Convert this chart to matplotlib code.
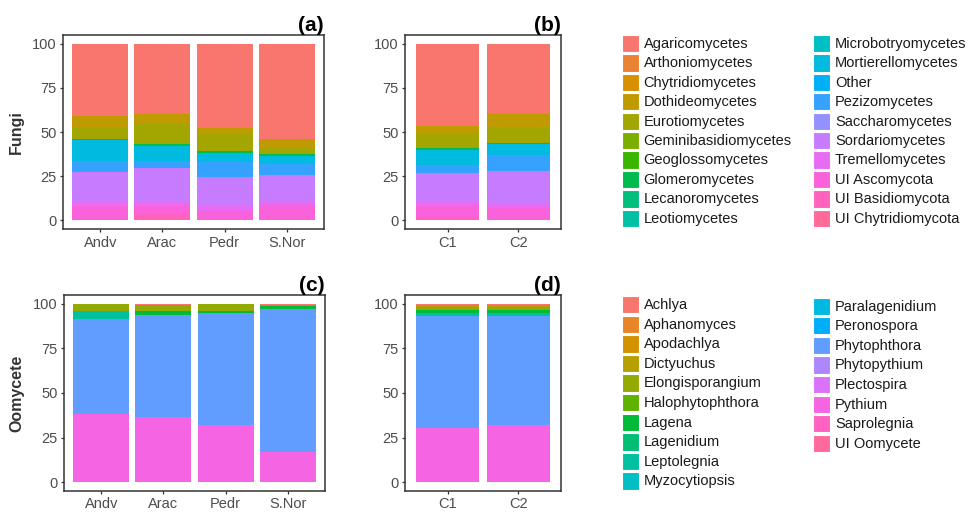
import numpy as np
import matplotlib
matplotlib.use('Agg')
import matplotlib.pyplot as plt
from matplotlib.patches import Rectangle

plt.rcParams['font.family'] = ['Liberation Sans', 'DejaVu Sans']

# --- data (relative abundance, %) ---
fungi_classes = ['Agaricomycetes', 'Arthoniomycetes', 'Chytridiomycetes', 'Dothideomycetes',
                 'Eurotiomycetes', 'Geminibasidiomycetes', 'Geoglossomycetes', 'Glomeromycetes',
                 'Lecanoromycetes', 'Leotiomycetes', 'Microbotryomycetes', 'Mortierellomycetes',
                 'Other', 'Pezizomycetes', 'Saccharomycetes', 'Sordariomycetes',
                 'Tremellomycetes', 'UI Ascomycota', 'UI Basidiomycota', 'UI Chytridiomycota']
sites = ['Andv', 'Arac', 'Pedr', 'S.Nor']
crops = ['C1', 'C2']

#                Agar Arth Chyt Doth Euro Gemi Geog Glom Leca Leot Micr Mort Oth Pezi Sacc Sord Trem UIA  UIB UIC
fungi_sites = [[41.0, 0, 0, 6.6, 6.2, 0, 0, 0.7, 0, 0, 0, 12.0, 0, 5.9, 0, 17.3, 2.0, 8.3, 0, 0],
               [39.8, 0, 0, 5.3, 11.7, 0, 0, 1.1, 0, 0, 0, 8.3, 0, 3.9, 0, 19.6, 2.2, 4.7, 3.4, 0],
               [47.6, 0, 0, 3.5, 9.4, 0, 0, 1.5, 0, 0, 0, 5.1, 0, 8.3, 0, 16.1, 3.2, 5.3, 0, 0],
               [53.8, 0, 0, 5.2, 3.4, 0, 0, 0.9, 0, 0, 0, 4.7, 0, 6.4, 0, 15.4, 1.2, 9.0, 0, 0]]
fungi_crops = [[46.8, 0, 0, 4.3, 8.1, 0, 0, 1.0, 0, 0, 0, 8.4, 0, 4.3, 0, 16.9, 2.3, 6.0, 1.9, 0],
               [39.8, 0, 0, 7.9, 8.3, 0, 0, 0.6, 0, 0, 0, 6.4, 0, 8.8, 0, 18.4, 2.3, 7.5, 0, 0]]

oomy_genera = ['Achlya', 'Aphanomyces', 'Apodachlya', 'Dictyuchus', 'Elongisporangium',
               'Halophytophthora', 'Lagena', 'Lagenidium', 'Leptolegnia', 'Myzocytiopsis',
               'Paralagenidium', 'Peronospora', 'Phytophthora', 'Phytopythium', 'Plectospira',
               'Pythium', 'Saprolegnia', 'UI Oomycete']

#              Achl Apha Apod Dict Elon Halo Lage Lagd Lept Myzo Para Pero Phyto Phpy Plec Pyth Sapr UIO
oomy_sites = [[0, 0, 0, 0, 3.8, 0, 0, 0, 4.7, 0, 0, 0, 53.1, 0, 0, 38.4, 0, 0],
              [0.6, 0, 0, 0, 3.2, 0, 2.2, 0, 0, 0, 0, 0, 57.7, 0, 0, 36.3, 0, 0],
              [0, 0, 0, 0, 4.2, 0, 1.1, 0, 0, 0, 0, 0, 62.9, 0, 0, 31.8, 0, 0],
              [0.6, 0, 0, 0, 0.7, 0, 1.3, 0, 0, 0, 0, 0, 80.6, 0, 0, 16.8, 0, 0]]
oomy_crops = [[0.6, 0, 0, 1.0, 1.9, 0, 1.5, 0, 1.6, 0, 0, 0, 63.1, 0, 0, 30.3, 0, 0],
              [0.6, 0, 0, 1.0, 2.0, 0, 1.6, 0, 1.4, 0, 0, 0, 61.1, 0, 0, 32.3, 0, 0]]


def hcl_hex(h, c=100, l=65):
    # polar LUV -> XYZ -> sRGB (D65)
    hr = np.deg2rad(h)
    U, V = c * np.cos(hr), c * np.sin(hr)
    Xn, Yn, Zn = 95.047, 100.0, 108.883
    un = 4 * Xn / (Xn + 15 * Yn + 3 * Zn)
    vn = 9 * Yn / (Xn + 15 * Yn + 3 * Zn)
    Y = Yn * ((l + 16) / 116) ** 3
    u = U / (13 * l) + un
    v = V / (13 * l) + vn
    X = 9 * Y * u / (4 * v)
    Z = -X / 3 - 5 * Y + 3 * Y / v
    M = np.array([[3.240479, -1.537150, -0.498535],
                  [-0.969256, 1.875992, 0.041556],
                  [0.055648, -0.204043, 1.057311]])
    rgb = M @ (np.array([X, Y, Z]) / 100)
    rgb = np.where(rgb <= 0.0031308, 12.92 * rgb, 1.055 * np.abs(rgb) ** (1 / 2.4) - 0.055)
    rgb = np.clip(rgb, 0, 1)
    return '#%02X%02X%02X' % tuple(int(round(x * 255)) for x in rgb)


def hue_pal(n):
    hues = np.linspace(15, 375, n + 1)[:-1]
    return [hcl_hex(h) for h in hues]


fungi_cols = hue_pal(len(fungi_classes))
oomy_cols = hue_pal(len(oomy_genera))

W, H = 973, 517
fig = plt.figure(figsize=(W / 100, H / 100), dpi=100)


def add_ax(left, top, right, bottom):
    return fig.add_axes([left / W, 1 - bottom / H, (right - left) / W, (bottom - top) / H])


def stacked(ax, labels, table, colors, tag, ylab=None):
    vals = np.array(table, dtype=float)
    x = np.arange(1, len(labels) + 1)
    # last level sits at the bottom, first level on top (ggplot stacking)
    base = np.zeros(len(labels))
    for j in range(vals.shape[1] - 1, -1, -1):
        ax.bar(x, vals[:, j], bottom=base, width=0.9, color=colors[j], linewidth=0)
        base += vals[:, j]
    ax.set_xlim(0.4, len(labels) + 0.6)
    ax.set_ylim(-5, 105)
    ax.set_xticks(x)
    ax.set_xticklabels(labels)
    ax.set_yticks([0, 25, 50, 75, 100])
    ax.tick_params(colors='#333333', labelcolor='#4D4D4D', labelsize=10.5,
                   length=2.5, width=0.9, pad=2)
    for s in ax.spines.values():
        s.set_color('#333333')
        s.set_linewidth(1.1)
    ax.set_title(tag, loc='right', fontsize=15, fontweight='bold', pad=3)
    if ylab:
        ax.set_ylabel(ylab, fontsize=11.5, fontweight='bold', color='#333333', labelpad=6)


ax_a = add_ax(63, 34.7, 324, 229.3)
ax_b = add_ax(405, 34.7, 561, 229.3)
ax_c = add_ax(64, 295, 325, 491)
ax_d = add_ax(405, 295, 561, 491)

stacked(ax_a, sites, fungi_sites, fungi_cols, '(a)', 'Fungi')
stacked(ax_b, crops, fungi_crops, fungi_cols, '(b)')
stacked(ax_c, sites, oomy_sites, oomy_cols, '(c)', 'Oomycete')
stacked(ax_d, crops, oomy_crops, oomy_cols, '(d)')

# legends drawn in pixel space
leg = fig.add_axes([0, 0, 1, 1])
leg.set_xlim(0, W)
leg.set_ylim(H, 0)
leg.axis('off')


def draw_legend(names, colors, top, nrow, step=19.5, col_x=(621.7, 813), col_dy=(0, 0)):
    for i, (nm, c) in enumerate(zip(names, colors)):
        col, row = divmod(i, nrow)
        x0 = col_x[col]
        y0 = top + row * step + col_dy[col]
        leg.add_patch(Rectangle((x0, y0), 17.3, 17.3, facecolor=c, edgecolor='white', linewidth=0.8))
        leg.text(x0 + 22, y0 + 9, nm, fontsize=10.5, color='#1A1A1A', va='center', ha='left')


draw_legend(fungi_classes, fungi_cols, 35.0, 10, step=19.4)
draw_legend(oomy_genera, oomy_cols, 296.0, 10, step=19.6, col_dy=(0, 1.5))

fig.savefig('out.png', dpi=100)
